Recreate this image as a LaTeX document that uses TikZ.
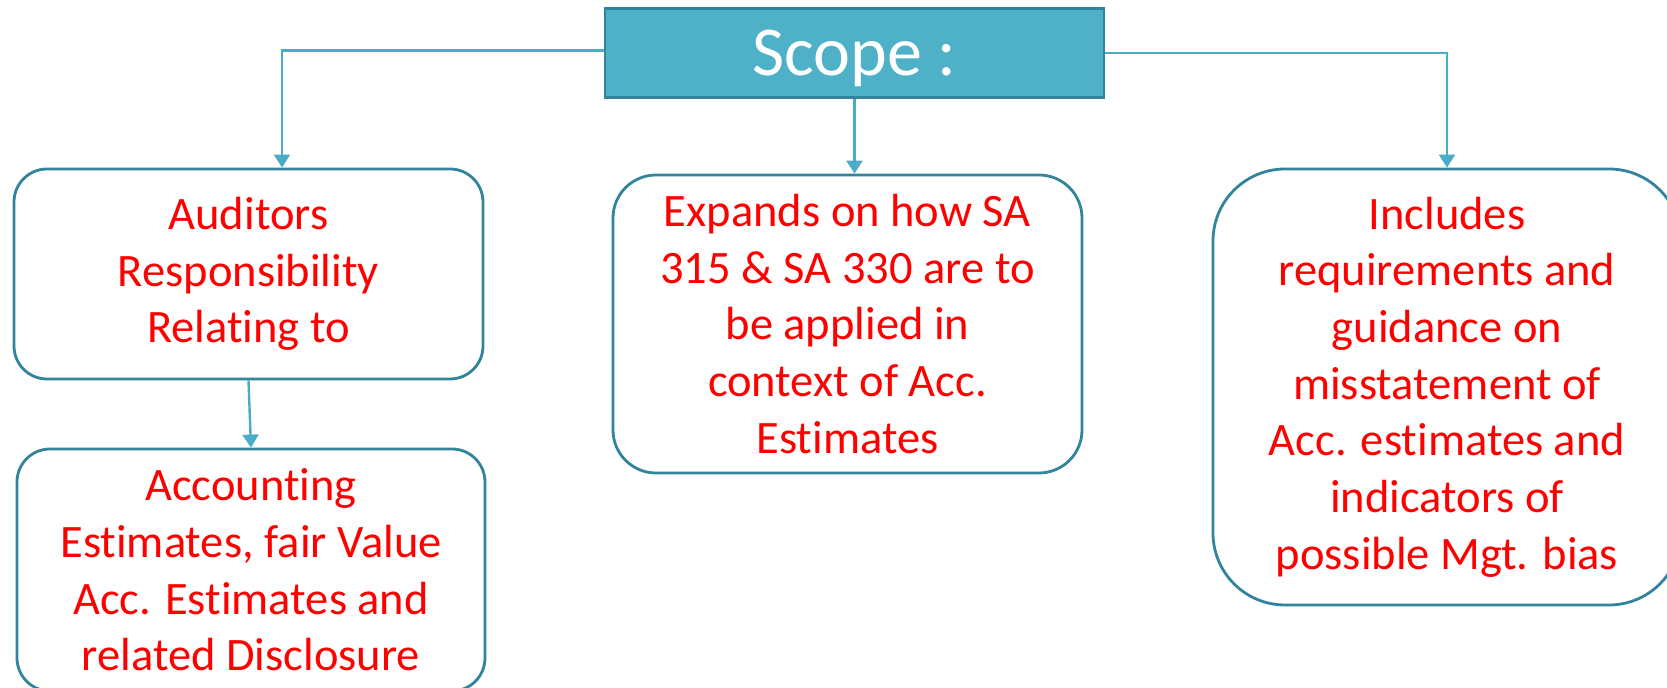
\documentclass[tikz,border=0pt]{standalone}
\usepackage{fontspec}
\setmainfont{Carlito}[Ligatures={NoCommon}]
\usetikzlibrary{arrows.meta}
\definecolor{scopefill}{RGB}{79,177,200}
\definecolor{boxline}{RGB}{49,132,155}
\definecolor{linkline}{RGB}{75,172,198}
\definecolor{textred}{RGB}{255,0,0}
\begin{document}
\begin{tikzpicture}[x=0.5pt,y=-0.5pt,
  infobox/.style={draw=boxline, line width=1.4pt, fill=white, rounded corners=#1,
    align=center, text=textred, font=\fontsize{23.25}{28.35}\selectfont,
    inner sep=0pt, minimum width=234.5pt},
  link/.style={draw=linkline, line width=1.2pt, -{Triangle[width=8pt,length=6.5pt]}}]
\useasboundingbox (0,0) rectangle (1667,688);
\clip (0,0) rectangle (1667,688);

% heading
\node[fill=scopefill, draw=boxline, line width=1.4pt, minimum width=249.5pt,
      minimum height=44.5pt, text=white, font=\fontsize{35}{42}\selectfont,
      text height=22.4pt, text depth=0pt, inner sep=0pt] (scope) at (854.5,53.3) {Scope :};

% branches
\node[infobox=16.5pt, minimum height=105pt] (resp) at (248.5,274)
  {Auditors\\Responsibility\\Relating to};
\node[infobox=16.5pt, minimum width=234pt, minimum height=121pt] (acc) at (251,570)
  {Accounting\\Estimates, fair Value\\Acc. Estimates and\\related Disclosure};
\node[infobox=21.5pt, minimum height=149pt] (expand) at (847.5,324)
  {Expands on how SA\\315 \& SA 330 are to\\be applied in\\context of Acc.\\Estimates};
\node[infobox=36pt, minimum width=234pt, minimum height=218pt] (incl) at (1447,387)
  {Includes\\requirements and\\guidance on\\misstatement of\\Acc. estimates and\\indicators of\\possible Mgt. bias};

% connectors
\draw[link] ([yshift=1.35pt]scope.west) -| ([xshift=16.75pt]resp.north);
\draw[link] (scope.east) -| (incl.north);
\draw[link] (scope.south) -- (scope.south |- expand.north);
\draw[link] (resp.south) -- (acc.north);
\end{tikzpicture}
\end{document}
